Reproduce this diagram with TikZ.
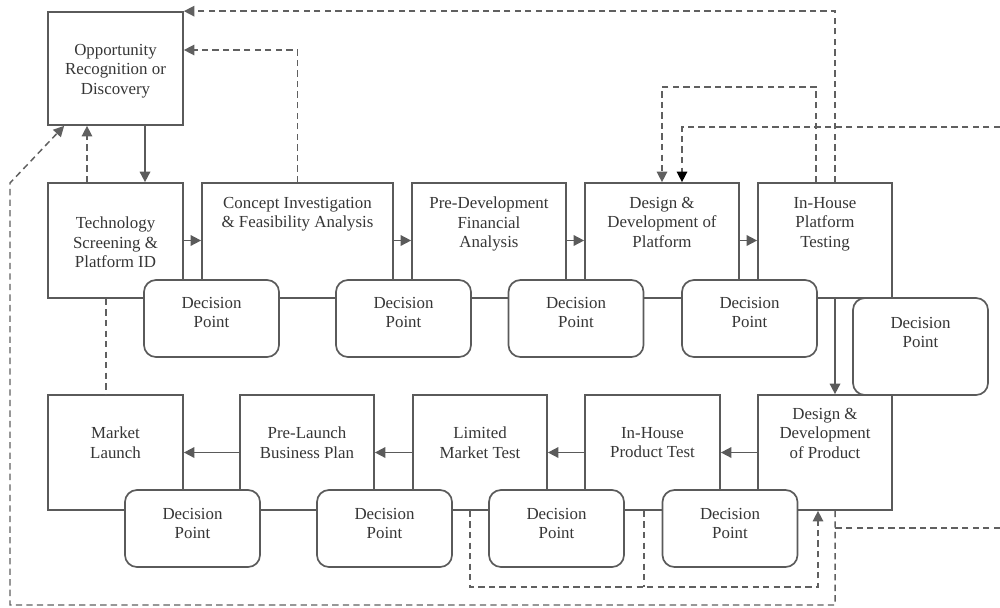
\documentclass[tikz,border=0pt]{standalone}
\usepackage{fontspec}
\setmainfont{Liberation Serif}
\usetikzlibrary{arrows.meta}
\definecolor{linegray}{HTML}{5A5A5A}
\definecolor{dashgray}{HTML}{606060}
\definecolor{textgray}{HTML}{363636}
\tikzset{
  stage/.style={draw=linegray, line width=1.2pt, inner sep=0pt, minimum height=2.875cm},
  decision/.style={draw=linegray, line width=1.2pt, fill=white, rounded corners=0.3cm,
    minimum width=3.375cm, minimum height=1.925cm, inner sep=0pt},
  lbl/.style={anchor=north, inner sep=0pt, align=center, text=textgray,
    font=\fontsize{12pt}{13.8pt}\selectfont},
  flow/.style={draw=linegray, line width=1.2pt, -{Triangle[length=7.5pt,width=7.5pt]}},
  back/.style={draw=dashgray, line width=1.05pt, dash pattern=on 4.5pt off 3pt},
  backarr/.style={back, -{Triangle[length=7.5pt,width=7.5pt]}},
}
\begin{document}
\begin{tikzpicture}[x=0.025cm, y=-0.025cm]
\useasboundingbox (0,0) rectangle (1000,607);

% Draw the stage boxes
\node[stage, minimum width=3.375cm, minimum height=2.825cm] (opp) at (115.5,68.5) {};
\node[stage, minimum width=3.375cm] (tech) at (115.5,240.5) {};
\node[stage, minimum width=4.775cm] (concept) at (297.5,240.5) {};
\node[stage, minimum width=3.85cm] (predev) at (489,240.5) {};
\node[stage, minimum width=3.85cm] (desplat) at (662,240.5) {};
\node[stage, minimum width=3.35cm] (testplat) at (825,240.5) {};
\node[stage, minimum width=3.375cm] (market) at (115.5,452.5) {};
\node[stage, minimum width=3.35cm] (prelaunch) at (307,452.5) {};
\node[stage, minimum width=3.35cm] (limited) at (480,452.5) {};
\node[stage, minimum width=3.375cm] (testprod) at (652.5,452.5) {};
\node[stage, minimum width=3.35cm] (desprod) at (825,452.5) {};

% Label the stages
\node[lbl] (opp-t) at (115.5,44) {Opportunity\\Recognition or\\Discovery};
\node[lbl] (tech-t) at (115.5,217) {Technology\\Screening \&\\Platform ID};
\node[lbl] (concept-t) at (297.5,197) {Concept Investigation\\\& Feasibility Analysis};
\node[lbl] (predev-t) at (489,197) {Pre-Development\\Financial\\Analysis};
\node[lbl] (desplat-t) at (662,197) {Design \&\\Development of\\Platform};
\node[lbl] (testplat-t) at (825,197) {In-House\\Platform\\Testing};
\node[lbl] (market-t) at (115.5,427) {Market\\Launch};
\node[lbl] (prelaunch-t) at (307,427) {Pre-Launch\\Business Plan};
\node[lbl] (limited-t) at (480,427) {Limited\\Market Test};
\node[lbl] (testprod-t) at (652.5,427) {In-House\\Product Test};
\node[lbl] (desprod-t) at (825,408) {Design \&\\Development\\of Product};

% Draw the main flow
\draw[flow] ([xshift=0.7375cm]opp.south) -- ([xshift=0.7375cm]tech.north);
\draw[flow] (tech.east) -- (concept.west);
\draw[flow] (concept.east) -- (predev.west);
\draw[flow] (predev.east) -- (desplat.west);
\draw[flow] (desplat.east) -- (testplat.west);
\draw[flow] ([xshift=0.25cm]testplat.south) -- ([xshift=0.25cm]desprod.north);
\draw[flow] (desprod.west) -- (testprod.east);
\draw[flow] (testprod.west) -- (limited.east);
\draw[flow] (limited.west) -- (prelaunch.east);
\draw[flow] (prelaunch.west) -- (market.east);

% Draw the decision points
\foreach \cx/\n in {211.5/1, 403.5/2, 576/3, 749.5/4} {
  \node[decision] (dp\n) at (\cx,318.5) {};
  \node[lbl] (dp\n-t) at (\cx,297) {Decision\\Point};
}
\node[decision, minimum height=2.425cm] (dp5) at (920.5,346.5) {};
\node[lbl] (dp5-t) at (920.5,317) {Decision\\Point};
\foreach \cx/\n in {192.5/6, 384.5/7, 556.5/8, 730/9} {
  \node[decision] (dp\n) at (\cx,528.5) {};
  \node[lbl] (dp\n-t) at (\cx,508) {Decision\\Point};
}

% Draw the feedback paths
\coordinate (edgetop) at (1000,127);
\coordinate (edgebot) at (1000,528);
\coordinate (retx) at ([xshift=0.25cm]desprod.south);
\draw[backarr] ([xshift=-0.7125cm]tech.north) -- ([xshift=-0.7125cm]opp.south);
\draw[backarr] (concept.north) |- (opp.east |- 0,50);
\draw[backarr] ([xshift=0.25cm]testplat.north) |- (opp.north east);
\draw[backarr] ([xshift=-0.225cm]testplat.north) -- ++(0,-95) -| (desplat.north);
\draw[back, -{Triangle[length=7.5pt,width=7.5pt,color=black]}] (edgetop) -| ([xshift=0.5cm]desplat.north);
\draw[back] ([xshift=-0.2375cm]tech.south) -- ([xshift=-0.2375cm]market.north);
\draw[backarr] ([xshift=-0.25cm]limited.south) -- ++(0,76) -| ([xshift=-0.175cm]desprod.south);
\draw[back] ([xshift=-0.2125cm]testprod.south) -- ++(0,76);
\draw[back] (edgebot) -- (retx |- edgebot);
\draw[backarr] (retx) -- (retx |- 0,605) -| (10,183) -- ([xshift=0.425cm]opp.south west);
\end{tikzpicture}
\end{document}
